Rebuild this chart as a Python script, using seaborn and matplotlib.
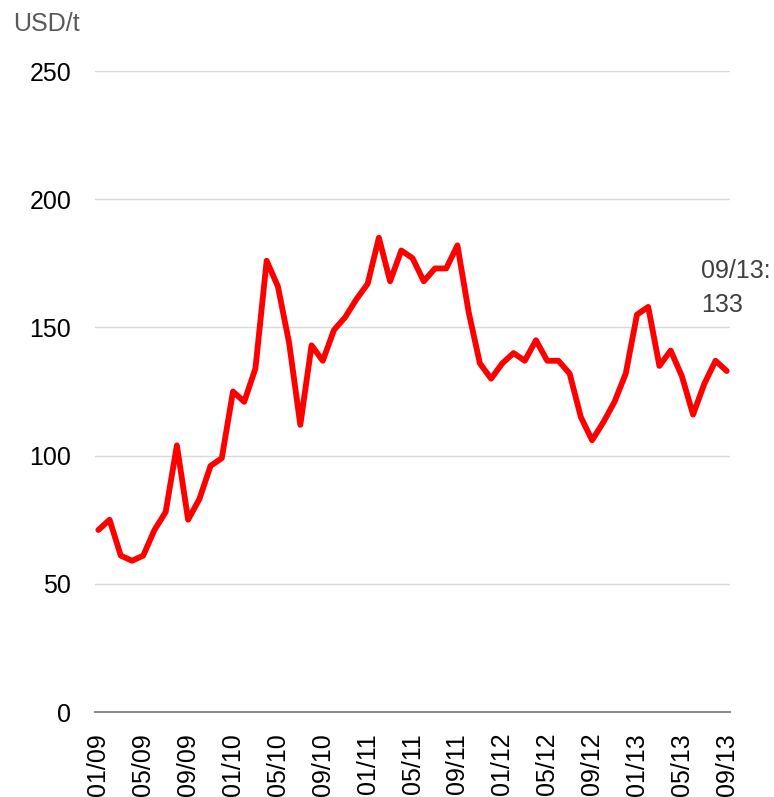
import pandas as pd
import matplotlib
matplotlib.use('Agg')
import matplotlib.pyplot as plt
import seaborn as sns

# Monthly price, 01/2009 - 09/2013 (USD/t)
months = [f"{m:02d}/{y:02d}" for y in range(9, 14) for m in range(1, 13)][:57]
prices = [71, 75, 61, 59, 61, 71, 78, 104, 75, 83, 96, 99,
          125, 121, 134, 176, 166, 144, 112, 143, 137, 149, 154, 161,
          167, 185, 168, 180, 177, 168, 173, 173, 182, 156, 136, 130,
          136, 140, 137, 145, 137, 137, 132, 115, 106, 113, 121, 132,
          155, 158, 135, 141, 131, 116, 128, 137, 133]
y_ticks = [0, 50, 100, 150, 200, 250]
unit_label = "USD/t"
last_label = f"{months[-1]}:\n{prices[-1]}"

data = pd.DataFrame({'idx': range(len(prices)), 'month': months, 'price': prices})

sns.set_style('white')
plt.rcParams['font.family'] = ['Liberation Sans', 'DejaVu Sans']

fig = plt.figure(figsize=(7.74, 7.97), dpi=100)
ax = fig.add_axes([0.1227, 0.1066, 0.8206, 0.8043])

sns.lineplot(x='idx', y='price', data=data, color='#ff0000', linewidth=4.2, ax=ax)

ax.set_ylim(0, 250)
ax.set_xlim(-0.3, len(prices) - 1 + 0.3)
ax.set_yticks(y_ticks)
ax.set_yticklabels([str(t) for t in y_ticks], fontsize=18, color='black')
tick_idx = list(range(0, len(months), 4))
ax.set_xticks(tick_idx)
ax.set_xticklabels([months[i] for i in tick_idx], rotation=90, fontsize=18, color='black')
ax.tick_params(axis='y', length=0, pad=17)
ax.tick_params(axis='x', length=0, pad=15)
ax.set_xlabel('')
ax.set_ylabel('')

ax.grid(axis='y', color='#d9d9d9', linewidth=1)
ax.grid(axis='x', visible=False)
for side in ['top', 'right', 'left']:
    ax.spines[side].set_visible(False)
ax.spines['bottom'].set_color('#8c8c8c')
ax.spines['bottom'].set_linewidth(1.5)
ax.spines['bottom'].set_zorder(1)

fig.text(0.017, 0.985, unit_label, fontsize=18, color='#595959', va='top', ha='left')
ax.text(53.7, 176.5, last_label, fontsize=18, color='#404040', va='top', ha='left',
        linespacing=1.5)

fig.savefig('out.png', dpi=100)
